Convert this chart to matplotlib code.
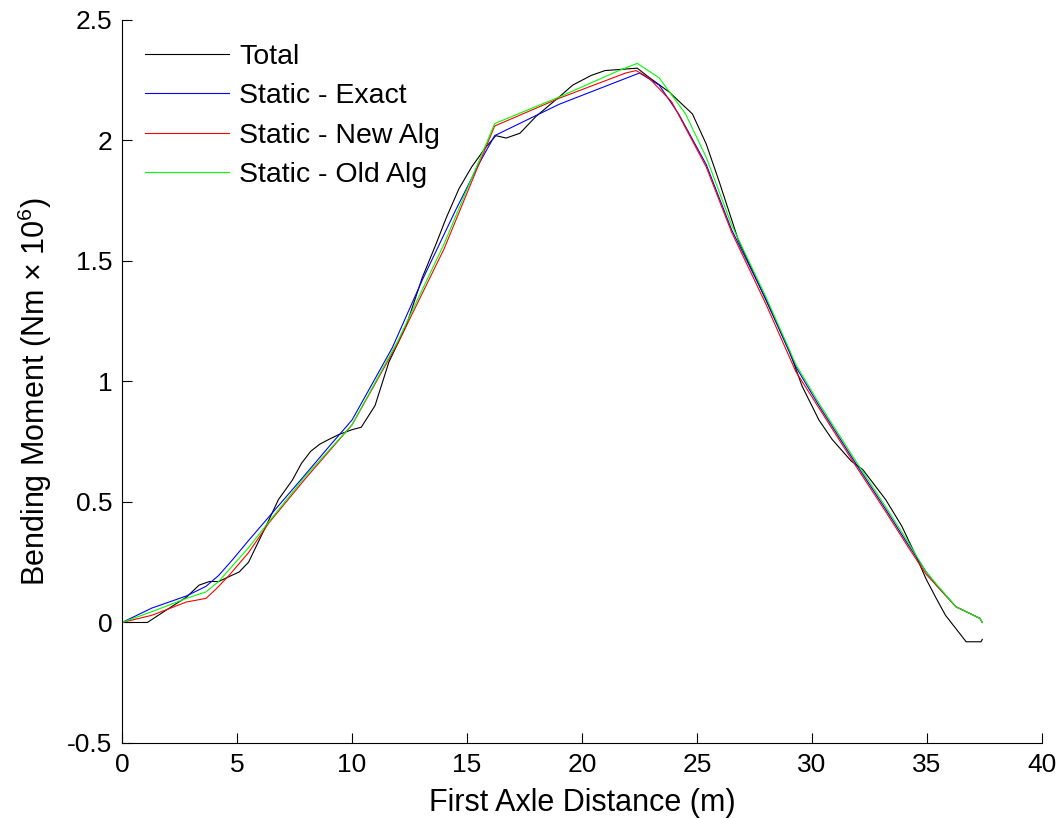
#!/usr/bin/env python3
import matplotlib
matplotlib.use("Agg")
import matplotlib.pyplot as plt

# first axle distance (m) / bending moment (Nm x 1e6)
total_x = [0, 1.1, 1.9, 2.8, 3.35, 3.8, 4.2, 4.65, 5.1, 5.5, 6.26, 6.8, 7.4, 7.8, 8.2, 8.6,
           9.0, 9.43, 10.0, 10.4, 11.0, 11.6, 12.35, 13.05, 13.65, 14.1, 14.65, 15.2, 15.8,
           16.25, 16.7, 17.3, 18.0, 19.0, 19.6, 20.4, 21.0, 22.4, 22.8, 23.8, 24.8, 25.4,
           25.96, 26.8, 28.0, 29.0, 29.57, 30.3, 30.87, 31.7, 32.2, 33.2, 33.9, 34.5, 34.96,
           35.4, 35.8, 36.7, 37.35, 37.4]
total_y = [0, 0, 0.05, 0.105, 0.155, 0.17, 0.17, 0.19, 0.21, 0.25, 0.40, 0.51, 0.59, 0.66,
           0.71, 0.74, 0.76, 0.78, 0.80, 0.81, 0.90, 1.08, 1.23, 1.43, 1.57, 1.68, 1.80, 1.89,
           1.97, 2.02, 2.01, 2.03, 2.10, 2.18, 2.23, 2.27, 2.29, 2.30, 2.27, 2.20, 2.11, 1.985,
           1.83, 1.585, 1.337, 1.13, 0.98, 0.84, 0.76, 0.67, 0.635, 0.51, 0.40, 0.28, 0.18,
           0.10, 0.03, -0.08, -0.08, -0.07]

exact_x = [0, 1.3, 2.8, 3.65, 4.2, 4.8, 5.5, 6.4, 7.8, 9.0, 10.0, 11.75, 13.05, 14.5, 15.5,
           16.2, 19.0, 22.5, 23.35, 24.2, 25.4, 26.5, 28.0, 29.3, 30.3, 31.3, 31.9, 33.2, 34.2,
           34.96, 35.4, 36.26, 37.3, 37.4]
exact_y = [0, 0.06, 0.11, 0.15, 0.195, 0.26, 0.34, 0.44, 0.595, 0.73, 0.84, 1.14, 1.42, 1.71,
           1.90, 2.02, 2.15, 2.28, 2.23, 2.11, 1.90, 1.63, 1.34, 1.06, 0.90, 0.75, 0.66, 0.47,
           0.32, 0.21, 0.155, 0.065, 0.017, 0.0]

new_x = [0, 1.3, 2.8, 3.65, 4.1, 4.65, 5.5, 6.4, 8.0, 10.0, 12.0, 14.0, 16.2, 19.0, 21.9,
         22.35, 22.9, 23.9, 25.4, 26.5, 28.0, 29.3, 30.3, 31.3, 31.9, 33.2, 34.2, 34.96, 35.4,
         36.26, 37.3, 37.4]
new_y = [0, 0.03, 0.085, 0.10, 0.14, 0.195, 0.29, 0.415, 0.60, 0.82, 1.16, 1.55, 2.06, 2.175,
         2.28, 2.29, 2.26, 2.16, 1.89, 1.62, 1.32, 1.04, 0.89, 0.74, 0.65, 0.46, 0.31, 0.20,
         0.155, 0.065, 0.017, 0.0]

old_x = [0, 1.3, 2.8, 3.65, 4.2, 4.8, 5.5, 6.4, 8.0, 10.0, 12.0, 14.0, 16.2, 19.0, 21.6,
         22.4, 23.35, 24.5, 25.4, 26.5, 28.0, 29.3, 30.3, 31.3, 31.9, 33.2, 34.2, 34.96, 35.4,
         36.26, 37.3, 37.4]
old_y = [0, 0.045, 0.10, 0.127, 0.17, 0.235, 0.31, 0.42, 0.61, 0.82, 1.17, 1.57, 2.07, 2.18,
         2.29, 2.32, 2.26, 2.11, 1.93, 1.65, 1.35, 1.07, 0.91, 0.76, 0.67, 0.48, 0.33, 0.21,
         0.16, 0.065, 0.017, 0.0]

x_ticks = [0, 5, 10, 15, 20, 25, 30, 35, 40]
y_ticks = [-0.5, 0, 0.5, 1, 1.5, 2, 2.5]
y_tick_labels = ["-0.5", "0", "0.5", "1", "1.5", "2", "2.5"]


def main():
    plt.rcParams["font.family"] = ["Liberation Sans", "DejaVu Sans"]
    plt.rcParams["mathtext.fontset"] = "custom"
    plt.rcParams["mathtext.rm"] = "Liberation Sans"
    plt.rcParams["mathtext.default"] = "regular"

    fig = plt.figure(figsize=(10.63, 8.18), dpi=100)
    ax = fig.add_axes([0.1148, 0.0917, 0.8655, 0.8839])

    lw = 0.8
    ax.plot(total_x, total_y, color="k", lw=lw, label="Total")
    ax.plot(exact_x, exact_y, color="#0000ff", lw=lw, label="Static - Exact")
    ax.plot(new_x, new_y, color="#ff0000", lw=lw, label="Static - New Alg")
    ax.plot(old_x, old_y, color="#00ff00", lw=lw, label="Static - Old Alg")

    ax.set_xlim(0, 40)
    ax.set_ylim(-0.5, 2.5)
    ax.set_xticks(x_ticks)
    ax.set_yticks(y_ticks)
    ax.set_yticklabels(y_tick_labels)
    ax.tick_params(direction="in", length=7, width=0.8, labelsize=19, pad=7)

    # matlab "box off" look
    ax.spines["top"].set_visible(False)
    ax.spines["right"].set_visible(False)
    for s in ("left", "bottom"):
        ax.spines[s].set_linewidth(0.8)

    ax.set_xlabel("First Axle Distance (m)", fontsize=22)
    ax.set_ylabel("Bending Moment (Nm × 10$^{6}$)", fontsize=22)
    ax.xaxis.set_label_coords(0.5, -0.062)
    ax.yaxis.set_label_coords(-0.074, 0.486)

    ax.legend(loc="upper left", bbox_to_anchor=(0.013, 0.982), frameon=False,
              fontsize=20.5, handlelength=2.95, handletextpad=0.35, labelspacing=0.46,
              borderaxespad=0.0)

    fig.savefig("out.png", dpi=100)


if __name__ == "__main__":
    main()
